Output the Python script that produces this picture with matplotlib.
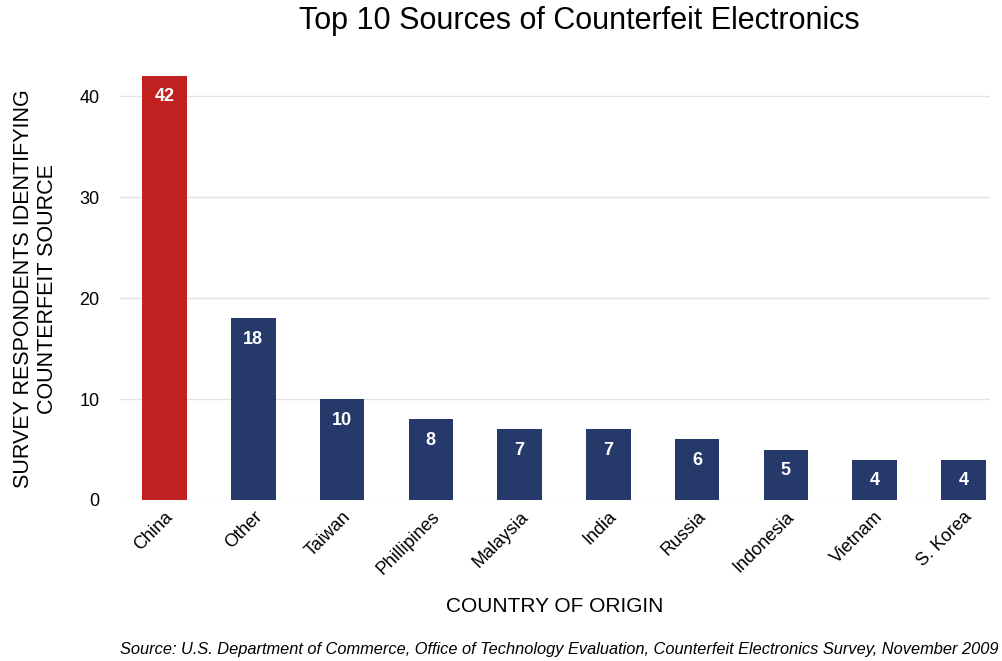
import matplotlib
matplotlib.use('Agg')
import matplotlib.pyplot as plt
import numpy as np

countries = ['China', 'Other', 'Taiwan', 'Phillipines', 'Malaysia',
             'India', 'Russia', 'Indonesia', 'Vietnam', 'S. Korea']
respondents = [42, 18, 10, 8, 7, 7, 6, 5, 4, 4]

plt.rcParams['font.family'] = ['Liberation Sans', 'DejaVu Sans']

fig = plt.figure(figsize=(10.02, 6.61), dpi=100)
ax = fig.add_axes([0.12, 0.2436, 0.868, 0.672])

x = np.arange(len(countries))
colors = ['#c0201f'] + ['#253a6b'] * (len(countries) - 1)
bars = ax.bar(x, respondents, width=0.5, color=colors, zorder=3)

# value labels inside the top of each bar
for xi, v in zip(x, respondents):
    ax.annotate(str(v), (xi, v), xytext=(0, -9), textcoords='offset points',
                ha='center', va='top', color='white', fontsize=13,
                fontweight='bold', zorder=4)

ax.set_xlim(-0.5, 9.3)
ax.set_ylim(0, 44)
ax.set_yticks([0, 10, 20, 30, 40])
ax.yaxis.grid(True, color='#e2e2e2', linewidth=1, zorder=0)
ax.tick_params(axis='both', length=0, labelsize=13)
ax.tick_params(axis='y', pad=15)
ax.tick_params(axis='x', pad=6)
for s in ax.spines.values():
    s.set_visible(False)

ax.set_xticks(x)
ax.set_xticklabels(countries, rotation=45, ha='right', rotation_mode='anchor')

ax.set_ylabel('SURVEY RESPONDENTS IDENTIFYING\nCOUNTERFEIT SOURCE',
              fontsize=15.5, linespacing=1.15)
ax.yaxis.set_label_coords(-0.072, 0.475)
ax.set_xlabel('COUNTRY OF ORIGIN', fontsize=15, labelpad=14)

fig.text(0.578, 0.968, 'Top 10 Sources of Counterfeit Electronics',
         ha='center', va='center', fontsize=22)
fig.text(0.997, 0.018,
         'Source: U.S. Department of Commerce, Office of Technology Evaluation, '
         'Counterfeit Electronics Survey, November 2009',
         ha='right', va='center', fontsize=11.8, style='italic')

fig.savefig('out.png', dpi=100)
